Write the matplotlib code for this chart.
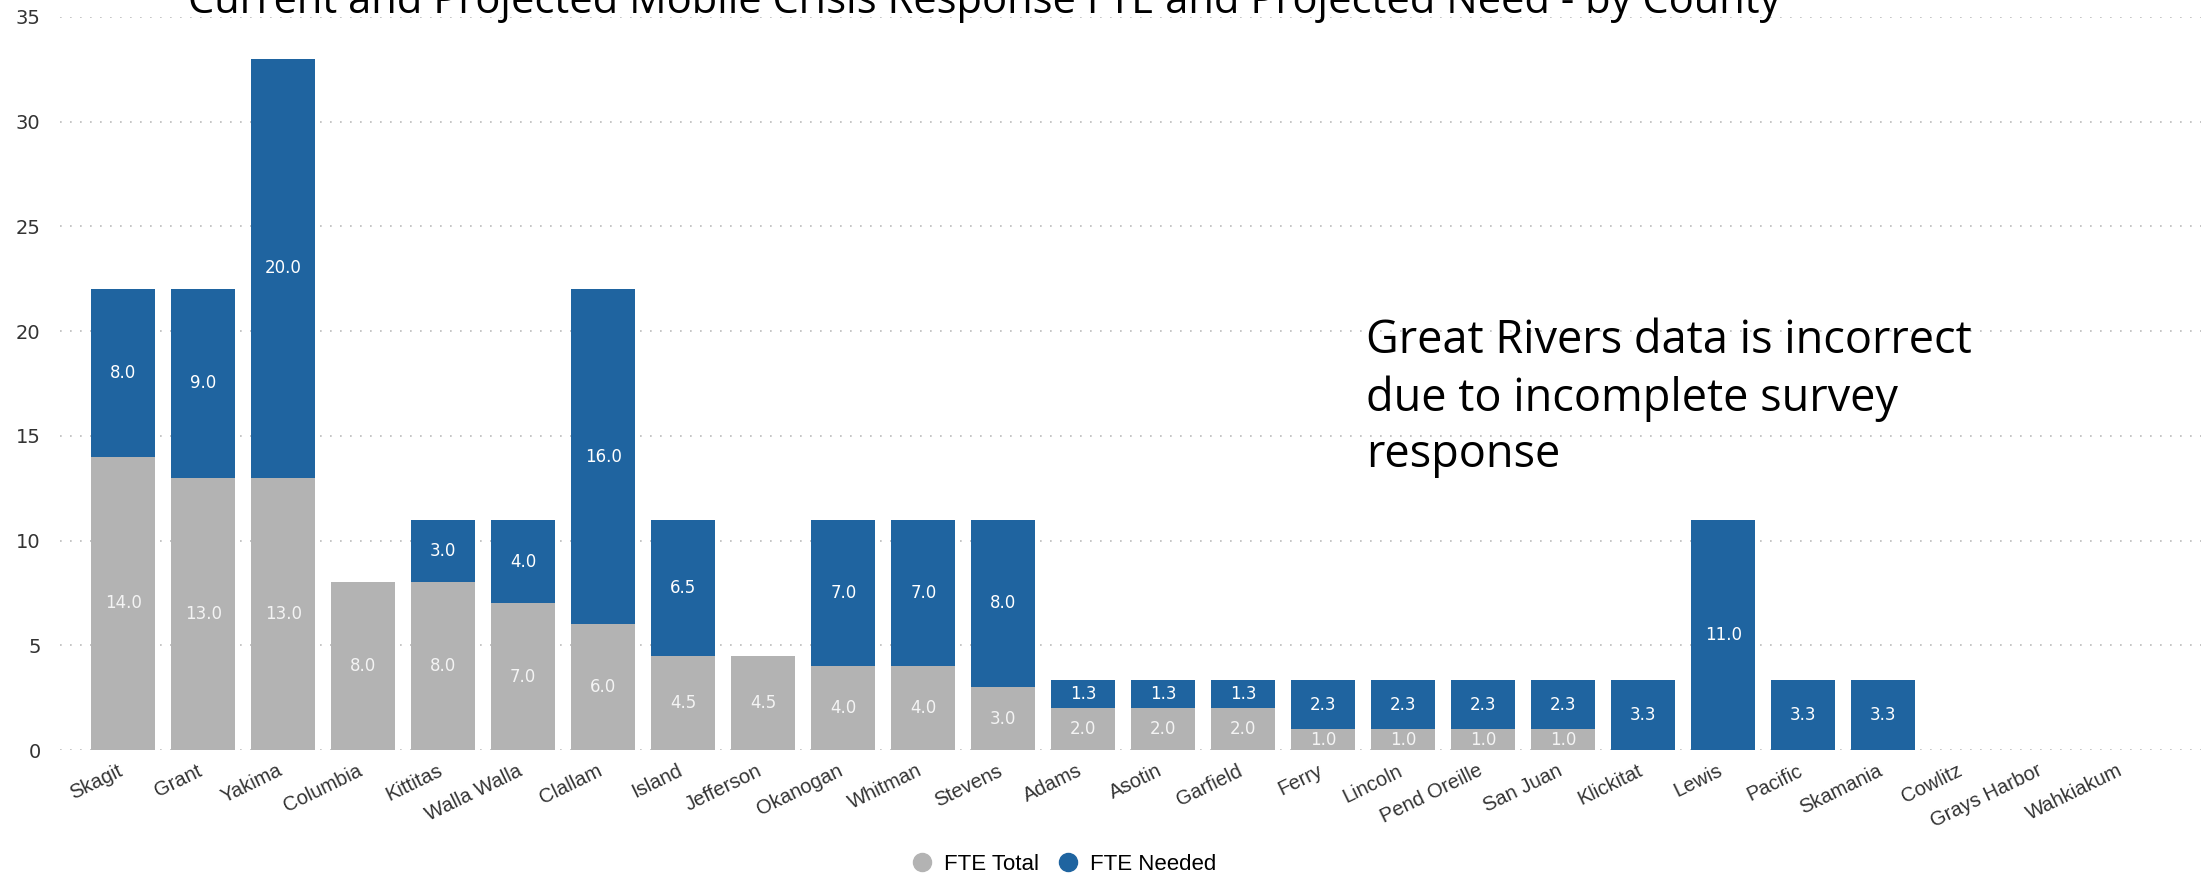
import matplotlib
matplotlib.use("Agg")
import matplotlib.pyplot as plt
import numpy as np
from matplotlib.lines import Line2D

# County data (FTE)
counties = ["Skagit", "Grant", "Yakima", "Columbia", "Kittitas", "Walla Walla", "Clallam",
            "Island", "Jefferson", "Okanogan", "Whitman", "Stevens", "Adams", "Asotin",
            "Garfield", "Ferry", "Lincoln", "Pend Oreille", "San Juan", "Klickitat", "Lewis",
            "Pacific", "Skamania", "Cowlitz", "Grays Harbor", "Wahkiakum"]
fte_total = [14, 13, 13, 8, 8, 7, 6, 4.5, 4.5, 4, 4, 3, 2, 2, 2, 1, 1, 1, 1, 0, 0, 0, 0, 0, 0, 0]
fte_needed = [8, 9, 20, 0, 3, 4, 16, 6.5, 0, 7, 7, 8, 1.33, 1.33, 1.33, 2.33, 2.33, 2.33, 2.33,
              3.33, 11, 3.33, 3.33, 0, 0, 0]

grey = "#B3B3B3"
blue = "#1F64A0"

fig = plt.figure(figsize=(22.01, 8.75), dpi=100)
ax = fig.add_axes([60 / 2201, 1 - 750 / 875, 1 - 60 / 2201, (750 - 17) / 875])

x = np.arange(len(counties))
total = np.array(fte_total, dtype=float)
needed = np.array(fte_needed, dtype=float)
ax.bar(x, total, width=0.8, color=grey, zorder=2)
ax.bar(x, needed, width=0.8, bottom=total, color=blue, zorder=2)

# value labels in the middle of each segment
for i in range(len(counties)):
    if total[i] > 0:
        ax.text(x[i], total[i] / 2, "%.1f" % total[i], ha="center", va="center",
                color="#F4F4F4", fontsize=12, zorder=3)
    if needed[i] > 0:
        ax.text(x[i], total[i] + needed[i] / 2, "%.1f" % needed[i], ha="center", va="center",
                color="white", fontsize=12, zorder=3)

ax.set_xlim(-0.79, 25.97)
ax.set_ylim(0, 35)
ax.set_yticks(range(0, 36, 5))
ax.yaxis.grid(True, linestyle=(0, (1, 5)), color="#BBBBBB", linewidth=1.2, zorder=0)
ax.set_axisbelow(True)
for s in ax.spines.values():
    s.set_visible(False)
ax.tick_params(axis="both", length=0)
ax.tick_params(axis="y", labelsize=14, labelcolor="#333333", pad=14)
ax.set_xticks(x - 0.08)
ax.set_xticklabels(counties, rotation=26, ha="right", rotation_mode="anchor",
                   fontsize=14.5, family="Liberation Sans", color="#333333")
ax.tick_params(axis="x", pad=8)

# title (partly clipped at the top, as in the original)
fig.text(984 / 2201, 1 - 13 / 875, "Current and Projected Mobile Crisis Response FTE and Projected Need - by County",
         ha="center", va="baseline", fontsize=30, family="Open Sans", color="black")
fig.text(1366 / 2201, 1 - 467 / 875,
         "Great Rivers data is incorrect\ndue to incomplete survey\nresponse",
         ha="left", va="baseline", fontsize=32.5, family="Open Sans", linespacing=1.3)

handles = [Line2D([], [], marker="o", linestyle="", color=grey, markersize=13),
           Line2D([], [], marker="o", linestyle="", color=blue, markersize=13)]
fig.legend(handles, ["FTE Total", "FTE Needed"], loc="center", bbox_to_anchor=(1058 / 2201, 1 - 864 / 875),
           ncol=2, frameon=False, handletextpad=0.0, columnspacing=0.3,
           prop={"family": "Liberation Sans", "size": 16})

fig.savefig("out.png", dpi=100)
